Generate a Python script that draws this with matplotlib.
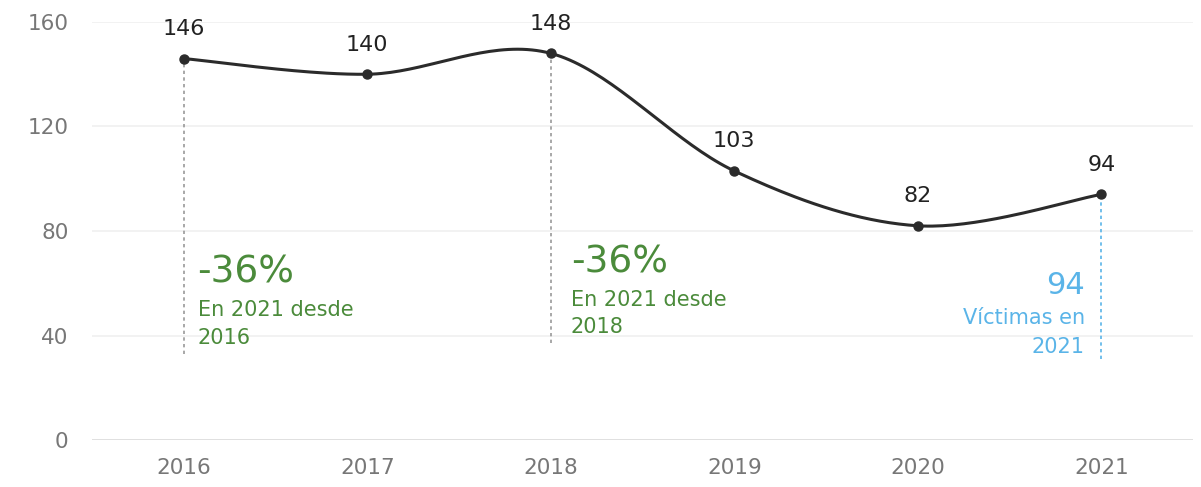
import numpy as np
import matplotlib.pyplot as plt

years = [2016, 2017, 2018, 2019, 2020, 2021]
victims = [146, 140, 148, 103, 82, 94]
y_ticks = [0, 40, 80, 120, 160]

plt.rcParams['font.family'] = ['DejaVu Sans']

fig = plt.figure(figsize=(12.01, 4.87), dpi=100)
ax = fig.add_axes([92 / 1201, 47 / 487, 1101 / 1201, 418 / 487])


# catmull-rom smoothing like the original chart
def smooth(xs, ys, n=40):
    xs = np.asarray(xs, float)
    ys = np.asarray(ys, float)
    px = np.concatenate([[xs[0]], xs, [xs[-1]]])
    py = np.concatenate([[ys[0]], ys, [ys[-1]]])
    out_x, out_y = [], []
    t = np.linspace(0, 1, n)
    for i in range(1, len(px) - 2):
        for p, out in ((px, out_x), (py, out_y)):
            p0, p1, p2, p3 = p[i - 1], p[i], p[i + 1], p[i + 2]
            m1 = (p2 - p0) / 2
            m2 = (p3 - p1) / 2
            h00 = 2 * t**3 - 3 * t**2 + 1
            h10 = t**3 - 2 * t**2 + t
            h01 = -2 * t**3 + 3 * t**2
            h11 = t**3 - t**2
            out.extend(h00 * p1 + h10 * m1 + h01 * p2 + h11 * m2)
    return out_x, out_y


sx, sy = smooth(years, victims)

# grid
for v in y_ticks:
    ax.axhline(v, color='#dddddd' if v == 0 else '#f0f0f0', lw=2 if v == 0 else 1.2, zorder=0)

# dashed guide lines
ax.plot([years[0], years[0]], [33, victims[0]], color='#999999', lw=1.2, ls=(0, (2, 2)), zorder=1)
ax.plot([years[2], years[2]], [37, victims[2]], color='#999999', lw=1.2, ls=(0, (2, 2)), zorder=1)
ax.plot([years[5], years[5]], [31, victims[5]], color='#5ab4e8', lw=1.2, ls=(0, (2, 2)), zorder=1)

ax.plot(sx, sy, color='#2b2b2b', lw=2.2, zorder=2)
ax.plot(years, victims, 'o', color='#2b2b2b', ms=6.5, zorder=3)

for x, v in zip(years, victims):
    ax.annotate(str(v), (x, v), xytext=(0, 14), textcoords='offset points',
                ha='center', va='bottom', fontsize=16, color='#222222')

green = '#4b8b3b'
ax.text(2016.075, 64.3, '-36%', fontsize=27, color=green, ha='left', va='center')
ax.text(2016.075, 49.8, 'En 2021 desde', fontsize=15, color=green, ha='left', va='center')
ax.text(2016.075, 39.0, '2016', fontsize=15, color=green, ha='left', va='center')
ax.text(2018.11, 67.8, '-36%', fontsize=27, color=green, ha='left', va='center')
ax.text(2018.11, 53.6, 'En 2021 desde', fontsize=15, color=green, ha='left', va='center')
ax.text(2018.11, 43.3, '2018', fontsize=15, color=green, ha='left', va='center')

blue = '#5ab4e8'
ax.text(2020.91, 59.3, '94', fontsize=22, color=blue, ha='right', va='center')
ax.text(2020.91, 46.7, 'Víctimas en', fontsize=15, color=blue, ha='right', va='center')
ax.text(2020.91, 35.6, '2021', fontsize=15, color=blue, ha='right', va='center')

ax.set_xlim(2015.5, 2021.5)
ax.set_ylim(0, 160)
ax.set_xticks(years)
ax.set_yticks(y_ticks)
ax.tick_params(length=0, labelsize=15.5, labelcolor='#777777')
ax.tick_params(axis='y', pad=17)
ax.tick_params(axis='x', pad=13)
for s in ax.spines.values():
    s.set_visible(False)

fig.savefig('out.png', dpi=100)
